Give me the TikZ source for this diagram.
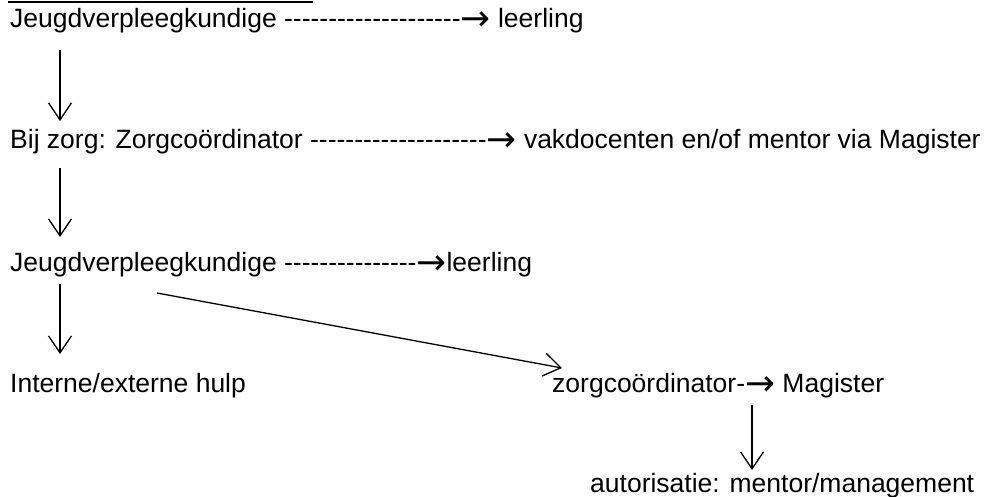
\documentclass[tikz,border=0pt]{standalone}
\usepackage{fontspec}
\setmainfont{Liberation Sans}[Ligatures=TeXOff]
\newfontfamily\arrfont{DejaVu Sans}
\usetikzlibrary{arrows.meta}
\newcommand{\tarr}{\raisebox{-3pt}{\scalebox{1.35}{\arrfont →}}}
\begin{document}
\begin{tikzpicture}[x=1pt,y=-1pt,
  txt/.style={anchor=base west,inner sep=0pt,font=\fontsize{26.5}{30}\selectfont},
  arr/.style={line width=1.3pt,-{Straight Barb[length=17pt,width=23pt,line width=1.3pt]}},
  uline/.style={line width=2.6pt}]
\useasboundingbox (0,0) rectangle (990,497);
% cut-off heading underline
\coordinate (h0) at (8,2);
\coordinate (h1) at (313,2);
\draw[uline] (h0) -- (h1);
% text lines
\node[txt] (l1) at (10,28) {Jeugdverpleegkundige --------------------\tarr{} leerling};
\node[txt] (l2) at (10,149) {Bij zorg: Zorgcoördinator --------------------\tarr{} vakdocenten en/of mentor via Magister};
\node[txt] (l3) at (10,271) {Jeugdverpleegkundige ---------------\tarr{}leerling};
\node[txt] (l4a) at (10,392) {Interne/externe hulp};
\node[txt] (l4b) at (552,392) {zorgcoördinator-\tarr{} Magister};
\node[txt] (l5) at (590,492) {autorisatie: mentor/management};
% arrows
\coordinate (a1s) at (60,50);   \coordinate (a1e) at (60,121);
\coordinate (a2s) at (60,168);  \coordinate (a2e) at (60,237);
\coordinate (a3s) at (60,284);  \coordinate (a3e) at (60,354);
\coordinate (dgs) at (157,293); \coordinate (dge) at (562,368);
\coordinate (a4s) at (752,405); \coordinate (a4e) at (752,470);
\draw[arr] (a1s) -- (a1e);
\draw[arr] (a2s) -- (a2e);
\draw[arr] (a3s) -- (a3e);
\draw[arr] (dgs) -- (dge);
\draw[arr] (a4s) -- (a4e);
\end{tikzpicture}
\end{document}
